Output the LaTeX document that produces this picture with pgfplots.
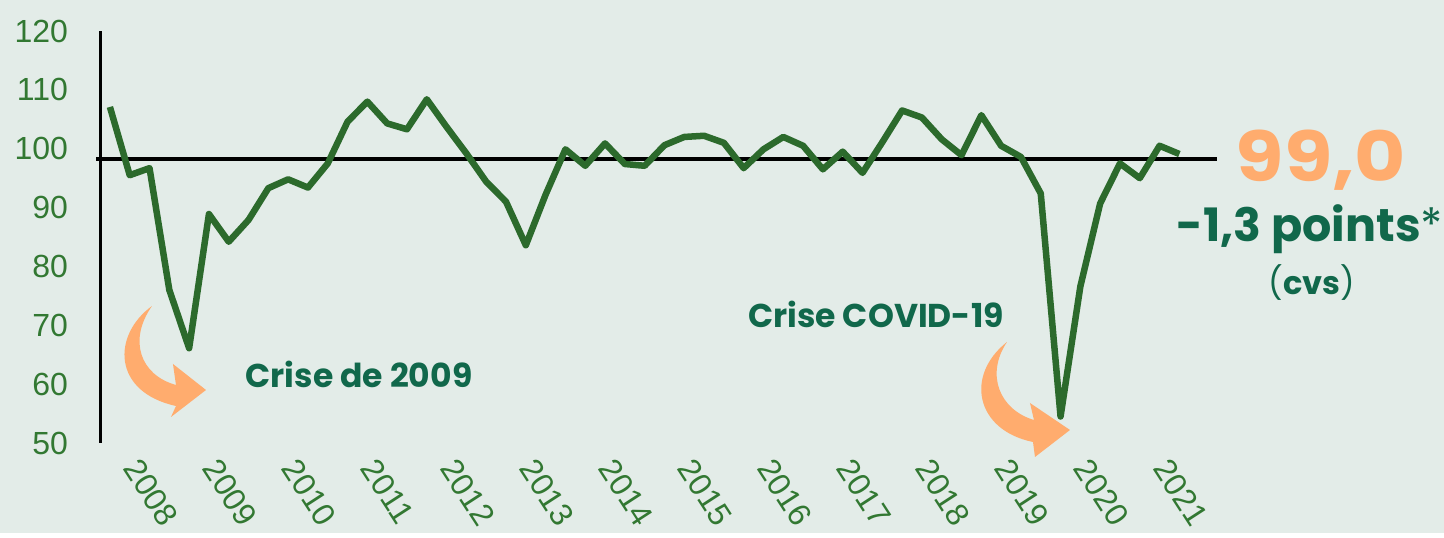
\documentclass[border=0pt]{standalone}
\usepackage{fontspec}
\setmainfont{Liberation Sans}
\newfontfamily\disp{Poppins}
\usepackage{pgfplots}
\pgfplotsset{compat=1.18}
\definecolor{bg}{RGB}{227,236,232}
\definecolor{linegreen}{RGB}{44,106,44}
\definecolor{tickgreen}{RGB}{50,120,50}
\definecolor{anngreen}{RGB}{17,104,75}
\definecolor{orng}{RGB}{255,172,110}
\begin{document}
\begin{tikzpicture}
\fill[bg] (-50.5bp,-45bp) rectangle (671.5bp,221.5bp);
\begin{axis}[at={(0,0)}, anchor=south west, scale only axis,
  width=558bp, height=206bp,
  xmin=-0.45, xmax=55.9, ymin=50, ymax=120,
  axis x line=bottom, axis y line=left, axis line style={-},
  x axis line style={draw=none},
  y axis line style={line width=1.5bp, black},
  ytick={50,60,...,120}, major tick length=0,
  xtick={0.9,4.9,8.9,12.9,16.9,20.9,24.9,28.9,32.9,36.9,40.9,44.9,48.9,52.9},
  xticklabels={2008,2009,2010,2011,2012,2013,2014,2015,2016,2017,2018,2019,2020,2021},
  tick label style={font=\fontsize{16bp}{18bp}\selectfont, text=tickgreen},
  /pgf/number format/assume math mode=true,
  yticklabel style={xshift=-13bp},
  xticklabel style={yshift=-7bp, rotate=-57, anchor=west},
  clip=false]
\addplot[black, line width=2bp, no markers] coordinates {(-0.7,98.3) (55.9,98.3)};
\addplot[linegreen, line width=3.25bp, line join=round, no markers] coordinates {
(0,107.1) (1,95.5) (2,96.7) (3,76.0) (4,66.1) (5,88.9) (6,84.2) (7,87.9) (8,93.3) (9,94.8)
(10,93.4) (11,97.5) (12,104.6) (13,108.0) (14,104.3) (15,103.3) (16,108.4) (17,103.7) (18,99.2) (19,94.4)
(20,91.0) (21,83.6) (22,92.2) (23,99.9) (24,97.1) (25,100.9) (26,97.4) (27,97.1) (28,100.6) (29,102.0)
(30,102.2) (31,101.0) (32,96.7) (33,99.9) (34,102.0) (35,100.5) (36,96.5) (37,99.5) (38,95.9) (39,101.1)
(40,106.5) (41,105.3) (42,101.6) (43,98.9) (44,105.7) (45,100.5) (46,98.6) (47,92.4) (48,54.5) (49,76.6)
(50,90.7) (51,97.5) (52,95.0) (53,100.5) (54,99.1)};
\end{axis}
\begin{scope}[shift={(-50.5bp,221.5bp)}, x=0.5bp, y=-0.5bp]
\fill[orng] (152,306) .. controls (112,335) and (112,392) .. (176,406) -- (171,417) -- (206,390) -- (173,364) -- (176,385) .. controls (140,375) and (128,340) .. (152,306) -- cycle;
\fill[orng] (1007,342) .. controls (965,375) and (975,430) .. (1033,442) -- (1035,457) -- (1070,430) -- (1030,403) -- (1034,420) .. controls (1000,410) and (985,375) .. (1007,342) -- cycle;
\node[anchor=base, text=anngreen, font=\disp\bfseries\fontsize{16.5bp}{18bp}\selectfont, inner sep=0] at (359,388) {Crise de 2009};
\node[anchor=base, text=anngreen, font=\disp\bfseries\fontsize{16.5bp}{18bp}\selectfont, inner sep=0] at (876,328) {Crise COVID-19};
\node[anchor=base, text=orng, font=\disp\bfseries\fontsize{34.5bp}{36bp}\selectfont, inner sep=0, xscale=1.14] at (1321,182) {99,0};
\node[anchor=base, text=anngreen, font=\disp\bfseries\fontsize{23bp}{26bp}\selectfont, inner sep=0] at (1310,242) {-1,3 points{\mdseries*}};
\node[anchor=base, text=anngreen, font=\disp\bfseries\fontsize{16bp}{18bp}\selectfont, inner sep=0] at (1312,295) {{\mdseries(}cvs{\mdseries)}};
\end{scope}
\end{tikzpicture}
\end{document}
